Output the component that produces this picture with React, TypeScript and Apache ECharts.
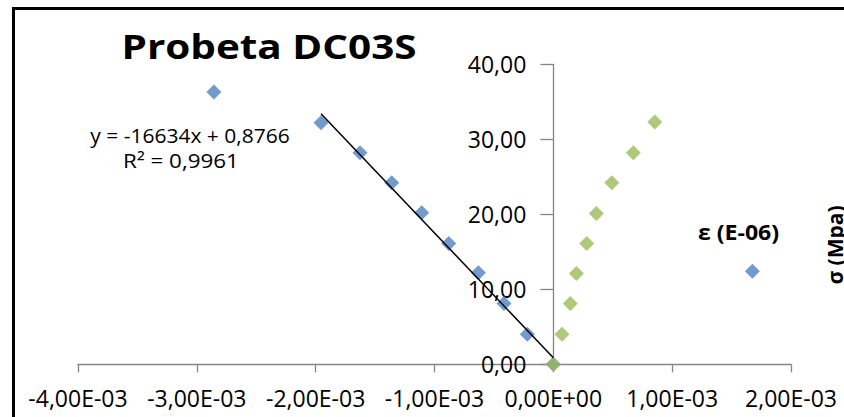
import React, { useEffect, useRef } from "react";
import * as echarts from "echarts";

// Strain (x) and stress (y) values
const fitStrain = [-1.955e-3, -1.627e-3, -1.36e-3, -1.108e-3, -0.88e-3, -0.631e-3, -0.415e-3, -0.219e-3, 0];
const fitStress = [32.2, 28.2, 24.2, 20.2, 16.1, 12.2, 8.1, 4.0, 0];
const outlierStrain = [-2.856e-3, 1.675e-3];
const outlierStress = [36.3, 12.4];
const axialStrain = [0, 0.073e-3, 0.143e-3, 0.194e-3, 0.281e-3, 0.362e-3, 0.492e-3, 0.673e-3, 0.854e-3];
const axialStress = [0, 4.0, 8.1, 12.1, 16.1, 20.1, 24.2, 28.2, 32.3];
const trendSlope = -16634;
const trendIntercept = 0.8766;

const xMin = -0.004;
const xMax = 0.002;
const xStep = 0.001;
const yMin = 0;
const yMax = 40;
const yStep = 10;

const titleText = "Probeta DC03S";
const eqLine1 = "y = -16634x + 0,8766";
const eqLine2 = "R² = 0,9961";
const xTitle = "ε (E-06)";
const yTitle = "σ (Mpa)";

const FONT = "'Open Sans', 'Noto Sans', sans-serif";
const BLUE = "#4F81BD";
const GREEN = "#9BBB59";
const AXIS = "#868686";

const W = 844;
const GRID_LEFT = 78;
const GRID_RIGHT = 53;

function fmtSci(v: number): string {
  if (Math.abs(v) < 1e-12) v = 0;
  const s = v.toExponential(2);
  const [mant, exp] = s.split("e");
  const sign = exp[0] === "-" ? "-" : "+";
  const digits = exp.replace(/^[+-]/, "").padStart(2, "0");
  return mant.replace(".", ",") + "E" + sign + digits;
}

export default function App() {
  const ref = useRef<HTMLDivElement>(null);
  useEffect(() => {
    if (!ref.current) return;
    const chart = echarts.init(ref.current, null, { renderer: "svg" });
    const pair = (xs: number[], ys: number[]) => xs.map((x, i) => [x, ys[i]]);
    const minX = Math.min(...fitStrain);
    const maxX = Math.max(...fitStrain);
    const trend = [minX, maxX].map((x) => [x, trendSlope * x + trendIntercept]);
    const gridW = W - GRID_LEFT - GRID_RIGHT;
    const yAxisOffset = -((0 - xMin) / (xMax - xMin)) * gridW;

    chart.setOption({
      animation: false,
      backgroundColor: "#ffffff",
      textStyle: { fontFamily: FONT },
      grid: { left: GRID_LEFT, right: GRID_RIGHT, top: 64.3, bottom: 52.7, containLabel: false, outerBoundsMode: "none" },
      xAxis: {
        type: "value",
        min: xMin,
        max: xMax,
        interval: xStep,
        splitLine: { show: false },
        axisLine: { onZero: true, lineStyle: { color: AXIS, width: 1.3 } },
        axisTick: { show: true, length: 8, lineStyle: { color: AXIS, width: 1.3 } },
        axisLabel: { color: "#000", fontSize: 23, fontFamily: FONT, margin: 22, formatter: (v: number) => fmtSci(v) },
      },
      yAxis: {
        type: "value",
        min: yMin,
        max: yMax,
        interval: yStep,
        offset: yAxisOffset,
        splitLine: { show: false },
        axisLine: { onZero: false, lineStyle: { color: AXIS, width: 1.3 } },
        axisTick: { show: true, length: 13, lineStyle: { color: AXIS, width: 1.3 } },
        axisLabel: { color: "#000", fontSize: 23, fontFamily: FONT, margin: 27, formatter: (v: number) => v.toFixed(2).replace(".", ",") },
      },
      series: [
        {
          type: "scatter",
          data: pair(fitStrain, fitStress),
          symbol: "diamond",
          symbolSize: 15,
          itemStyle: { color: BLUE },
        },
        {
          type: "scatter",
          data: pair(outlierStrain, outlierStress),
          symbol: "diamond",
          symbolSize: 15,
          itemStyle: { color: BLUE },
        },
        {
          type: "line",
          data: trend,
          showSymbol: false,
          symbol: "none",
          lineStyle: { color: "#000", width: 1.5 },
        },
        {
          type: "scatter",
          data: pair(axialStrain, axialStress),
          symbol: "diamond",
          symbolSize: 15,
          itemStyle: { color: GREEN },
        },
      ],
      graphic: [
        {
          type: "rect",
          shape: { x: 13.5, y: 8.5, width: 1000, height: 600 },
          style: { fill: "none", stroke: "#000", lineWidth: 3 },
          silent: true,
        },
        {
          type: "text",
          x: 269,
          y: 45.5,
          scaleX: 1.19,
          style: { text: titleText, font: `bold 34px ${FONT}`, fill: "#000", align: "center", verticalAlign: "middle" },
        },
        {
          type: "text",
          x: 190,
          y: 135,
          scaleX: 1.05,
          style: { text: eqLine1, font: `20px ${FONT}`, fill: "#000", align: "center", verticalAlign: "middle" },
        },
        {
          type: "text",
          x: 181,
          y: 160,
          scaleX: 1.12,
          style: { text: eqLine2, font: `20px ${FONT}`, fill: "#000", align: "center", verticalAlign: "middle" },
        },
        {
          type: "text",
          x: 738.5,
          y: 231.5,
          scaleX: 1.1,
          style: { text: xTitle, font: `bold 21px ${FONT}`, fill: "#000", align: "center", verticalAlign: "middle" },
        },
        {
          type: "text",
          x: 835,
          y: 245,
          rotation: Math.PI / 2,
          style: { text: yTitle, font: `bold 21px ${FONT}`, fill: "#000", align: "center", verticalAlign: "middle" },
        },
      ],
    });
    return () => chart.dispose();
  }, []);
  return <div ref={ref} style={{ position: "absolute", left: 0, top: 0, width: 844, height: 417 }} />;
}
